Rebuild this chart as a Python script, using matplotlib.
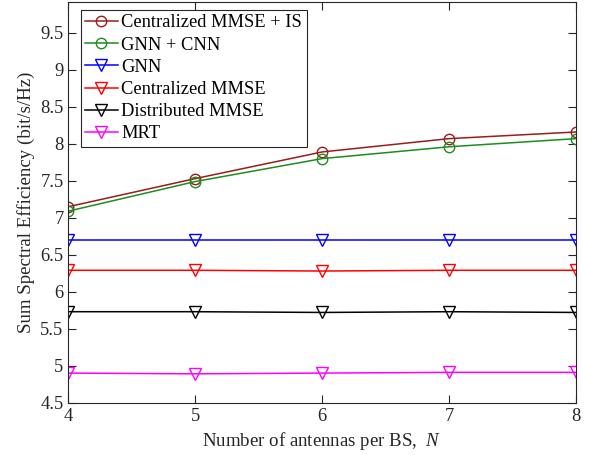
import matplotlib
matplotlib.use("Agg")
import matplotlib.pyplot as plt

plt.rcParams['font.family'] = ['Liberation Serif', 'DejaVu Serif']
plt.rcParams['mathtext.fontset'] = 'custom'
plt.rcParams['mathtext.it'] = 'Liberation Serif:italic'
plt.rcParams['mathtext.rm'] = 'Liberation Serif'

antennas = [4, 5, 6, 7, 8]
cmmse_is = [7.15, 7.53, 7.89, 8.07, 8.16]
gnn_cnn = [7.09, 7.49, 7.80, 7.96, 8.07]
gnn = [6.70, 6.70, 6.70, 6.70, 6.70]
cmmse = [6.29, 6.29, 6.28, 6.29, 6.29]
dmmse = [5.73, 5.73, 5.72, 5.73, 5.72]
mrt = [4.90, 4.89, 4.90, 4.91, 4.91]

series = [
    ("Centralized MMSE + IS", cmmse_is, "#9b1c1c", "o"),
    ("GNN + CNN", gnn_cnn, "#1e8c1e", "o"),
    ("GNN", gnn, "#0000ff", "v"),
    ("Centralized MMSE", cmmse, "#ff0000", "v"),
    ("Distributed MMSE", dmmse, "#000000", "v"),
    ("MRT", mrt, "#ff00ff", "v"),
]

fig = plt.figure(figsize=(5.9, 4.55), dpi=100)
ax = fig.add_axes([0.116, 0.115, 0.860, 0.881])
for label, vals, col, mk in series:
    ms = 7.5 if mk == "o" else 8.5
    ax.plot(antennas, vals, color=col, marker=mk, markersize=ms,
            markerfacecolor='none', markeredgewidth=1.0, linewidth=1.1, label=label)

ax.set_xlim(4, 8)
ax.set_ylim(4.5, 9.92)
ax.set_xticks([4, 5, 6, 7, 8])
ax.set_yticks([4.5, 5, 5.5, 6, 6.5, 7, 7.5, 8, 8.5, 9, 9.5])
ax.set_yticklabels(["4.5", "5", "5.5", "6", "6.5", "7", "7.5", "8", "8.5", "9", "9.5"])
ax.tick_params(direction='in', top=True, right=True, labelsize=13.3, colors='#262626', length=5.5)
for s in ax.spines.values():
    s.set_color('#262626')
    s.set_linewidth(0.8)
ax.set_xlabel("Number of antennas per BS,  $N$", fontsize=13.6, color='#262626')
ax.set_ylabel("Sum Spectral Efficiency (bit/s/Hz)", fontsize=13.6, color='#262626')

leg = ax.legend(loc='upper left', bbox_to_anchor=(0.024, 0.980), fontsize=13.3,
                frameon=True, fancybox=False, edgecolor='#262626', framealpha=1,
                borderaxespad=0, handlelength=1.75, handletextpad=0.2,
                labelspacing=0.28, borderpad=0.25)
leg.get_frame().set_linewidth(0.8)

fig.savefig("out.png", dpi=100)
